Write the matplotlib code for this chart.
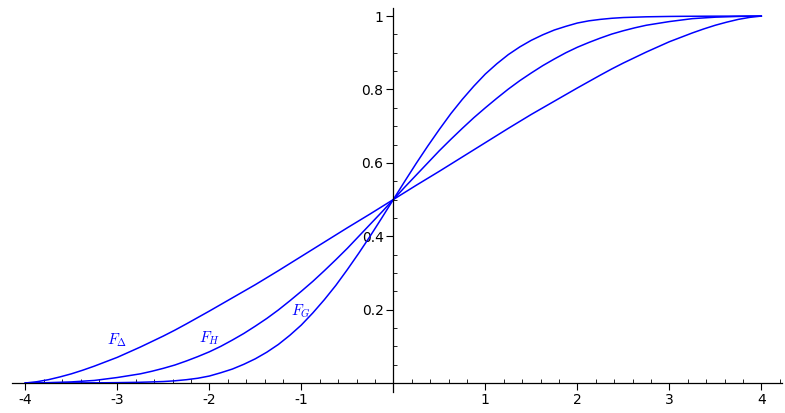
import numpy as np
import matplotlib
matplotlib.use("Agg")
import matplotlib.pyplot as plt
from matplotlib.ticker import MultipleLocator

# values at steps of 0.125
x = [-4, -3.875, -3.75, -3.625, -3.5, -3.375, -3.25, -3.125,
     -3, -2.875, -2.75, -2.625, -2.5, -2.375, -2.25, -2.125,
     -2, -1.875, -1.75, -1.625, -1.5, -1.375, -1.25, -1.125,
     -1, -0.875, -0.75, -0.625, -0.5, -0.375, -0.25, -0.125,
     0, 0.125, 0.25, 0.375, 0.5, 0.625, 0.75, 0.875,
     1, 1.125, 1.25, 1.375, 1.5, 1.625, 1.75, 1.875,
     2, 2.125, 2.25, 2.375, 2.5, 2.625, 2.75, 2.875,
     3, 3.125, 3.25, 3.375, 3.5, 3.625, 3.75, 3.875, 4]

F_delta = [0, 0.0035, 0.009, 0.0165, 0.025, 0.035, 0.046, 0.058,
           0.070, 0.084, 0.098, 0.113, 0.128, 0.144, 0.161, 0.1785,
           0.196, 0.214, 0.232, 0.250, 0.268, 0.287, 0.306, 0.3255,
           0.345, 0.3645, 0.384, 0.4035, 0.423, 0.442, 0.461, 0.4805,
           0.5, 0.5195, 0.539, 0.558, 0.577, 0.5965, 0.616, 0.6355,
           0.655, 0.6745, 0.694, 0.713, 0.732, 0.750, 0.768, 0.786,
           0.804, 0.8215, 0.839, 0.856, 0.872, 0.887, 0.902, 0.916,
           0.930, 0.942, 0.954, 0.965, 0.975, 0.9835, 0.991, 0.9965, 1]

F_H = [0, 0.0003, 0.001, 0.002, 0.003, 0.005, 0.007, 0.011,
       0.015, 0.020, 0.025, 0.032, 0.040, 0.049, 0.060, 0.072,
       0.085, 0.100, 0.117, 0.135, 0.155, 0.176, 0.199, 0.224,
       0.250, 0.277, 0.306, 0.336, 0.367, 0.400, 0.433, 0.466,
       0.5, 0.534, 0.567, 0.600, 0.633, 0.664, 0.694, 0.723,
       0.750, 0.776, 0.801, 0.824, 0.845, 0.865, 0.883, 0.900,
       0.915, 0.928, 0.940, 0.951, 0.960, 0.968, 0.975, 0.980,
       0.985, 0.989, 0.993, 0.995, 0.997, 0.998, 0.999, 0.9997, 1]

F_G = [0, 0.00005, 0.0001, 0.0002, 0.0003, 0.0004, 0.0005, 0.0007,
       0.001, 0.0015, 0.002, 0.003, 0.004, 0.006, 0.009, 0.013,
       0.019, 0.028, 0.038, 0.051, 0.066, 0.084, 0.105, 0.130,
       0.158, 0.191, 0.227, 0.266, 0.309, 0.354, 0.401, 0.450,
       0.5, 0.550, 0.599, 0.646, 0.691, 0.734, 0.773, 0.809,
       0.842, 0.870, 0.895, 0.916, 0.934, 0.949, 0.962, 0.972,
       0.981, 0.987, 0.991, 0.994, 0.996, 0.997, 0.998, 0.9985,
       0.999, 0.9993, 0.9995, 0.9996, 0.9997, 0.9998, 0.9999, 0.99995, 1]

labels = [r"$F_\Delta$", r"$F_H$", r"$F_G$"]
label_pos = [(-3.0, 0.117), (-2.0, 0.123), (-1.0, 0.196)]

plt.rcParams["mathtext.fontset"] = "cm"

fig = plt.figure(figsize=(7.85, 4.13), dpi=100)
ax = fig.add_axes([12 / 785, 21 / 413, 770 / 785, 384 / 413])

for ys in (F_delta, F_H, F_G):
    ax.plot(x, ys, color="#0000ff", lw=1.1)

for lab, (lx, ly) in zip(labels, label_pos):
    ax.text(lx, ly, lab, color="#0000ff", fontsize=11, ha="center", va="center")

ax.set_xlim(-4.145, 4.225)
ax.set_ylim(-0.0245, 1.022)

ax.spines["left"].set_position(("data", 0))
ax.spines["bottom"].set_position(("data", 0))
ax.spines["top"].set_visible(False)
ax.spines["right"].set_visible(False)
for s in ("left", "bottom"):
    ax.spines[s].set_linewidth(0.9)

ax.set_xticks([-4, -3, -2, -1, 1, 2, 3, 4])
ax.set_xticklabels(["-4", "-3", "-2", "-1", "1", "2", "3", "4"])
ax.set_yticks([0.2, 0.4, 0.6, 0.8, 1])
ax.set_yticklabels(["0.2", "0.4", "0.6", "0.8", "1"])
ax.xaxis.set_minor_locator(MultipleLocator(0.2))
ax.yaxis.set_minor_locator(MultipleLocator(0.05))

ax.tick_params(which="major", direction="out", length=5, width=0.8,
               labelsize=10, pad=2)
ax.tick_params(which="minor", direction="in", length=3, width=0.6)

fig.savefig("out.png", dpi=100)
